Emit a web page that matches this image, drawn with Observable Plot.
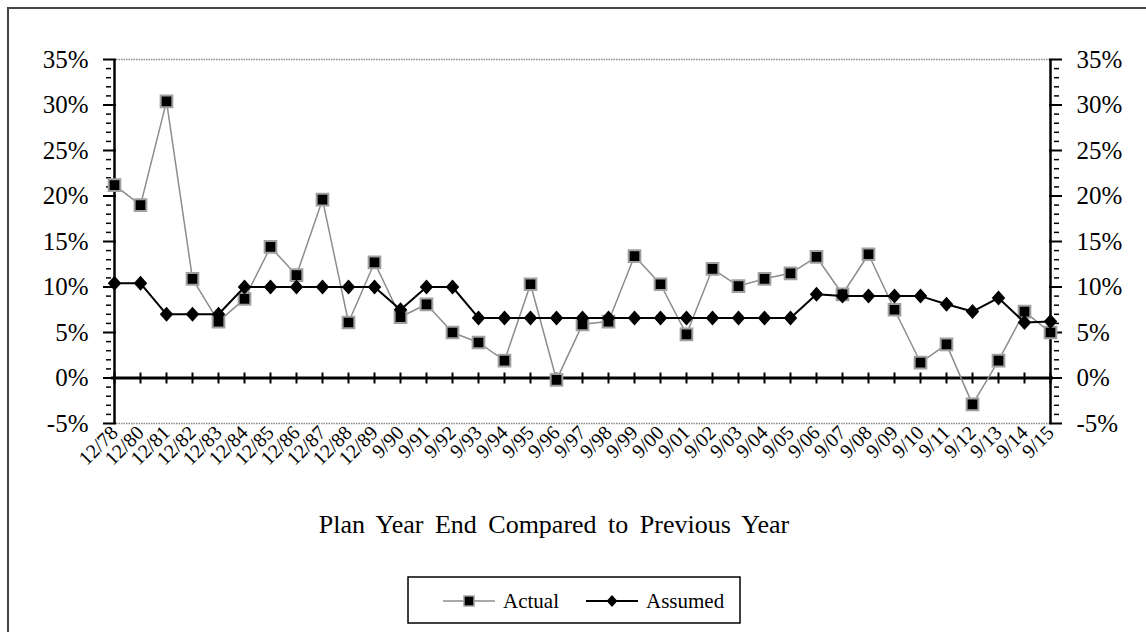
<!DOCTYPE html>
<html><head><meta charset="utf-8">
<script src="https://cdn.jsdelivr.net/npm/d3@7"></script>
<script src="https://cdn.jsdelivr.net/npm/@observablehq/plot@0.6"></script>
<style>
body{margin:0;background:#fff;font-family:"Liberation Serif","Times New Roman",serif;}
#wrap{position:relative;width:1146px;height:632px;overflow:hidden;}
#frame{position:absolute;left:7px;top:7px;width:1200px;height:700px;border-top:2px solid #444;border-left:2px solid #444;}
#chart{position:absolute;left:0;top:0;}
#chart svg, #chart svg text{font-family:"Liberation Serif","Times New Roman",serif !important;}
#title{position:absolute;left:0;width:1108px;top:510px;text-align:center;font-size:26px;word-spacing:5px;color:#000;}
#legend{position:absolute;left:407px;top:576px;}
#legend text{font-family:"Liberation Serif","Times New Roman",serif;}
</style>
</head><body>
<div id="wrap"><div id="frame"></div><div id="chart"></div><div id="title">Plan Year End Compared to Previous Year</div><div id="legend"></div></div>
<script>
const categories = ["12/78","12/80","12/81","12/82","12/83","12/84","12/85","12/86","12/87","12/88","12/89","9/90","9/91","9/92","9/93","9/94","9/95","9/96","9/97","9/98","9/99","9/00","9/01","9/02","9/03","9/04","9/05","9/06","9/07","9/08","9/09","9/10","9/11","9/12","9/13","9/14","9/15"];
const actual = [21.2,19.0,30.4,10.9,6.2,8.7,14.4,11.3,19.6,6.1,12.7,6.7,8.1,5.0,3.9,1.9,10.3,-0.2,5.9,6.2,13.4,10.3,4.8,12.0,10.1,10.9,11.5,13.3,9.2,13.6,7.5,1.7,3.7,-2.9,1.9,7.3,5.0];
const assumed = [10.4,10.4,7.0,7.0,7.0,10.0,10.0,10.0,10.0,10.0,10.0,7.5,10.0,10.0,6.6,6.6,6.6,6.6,6.6,6.6,6.6,6.6,6.6,6.6,6.6,6.6,6.6,9.2,9.0,9.0,9.0,9.0,8.1,7.3,8.8,6.1,6.2];
const seriesNames = ["Actual","Assumed"];
const majorTicks = [-5,0,5,10,15,20,25,30,35];
const minorTicks = d3.range(-5,36,1).filter(v => v % 5 !== 0);

const rowsActual = categories.map((c,i) => ({cat:c, value:actual[i]}));
const rowsAssumed = categories.map((c,i) => ({cat:c, value:assumed[i]}));

const diamondSym = {draw(ctx, size){ const r = Math.sqrt(size/Math.PI); const w = r*0.9; ctx.moveTo(0,-r); ctx.lineTo(w,0); ctx.lineTo(0,r); ctx.lineTo(-w,0); ctx.closePath(); }};
const vtickSym = {draw(ctx, size){ const r = Math.sqrt(size/Math.PI); ctx.moveTo(0,-r); ctx.lineTo(0,r); }};
const fmt = d => `${d}%`;

const chart = Plot.plot({
  width: 1146, height: 490,
  marginLeft: 111, marginRight: 93, marginTop: 59, marginBottom: 67,
  style: {fontFamily: "Liberation Serif", fontSize: "22px", color: "#000", background: "transparent", overflow: "visible"},
  x: {type: "point", domain: categories, padding: 0, label: null},
  y: {domain: [-5, 35], label: null},
  marks: [
    Plot.ruleY([35, -5], {stroke: "#8a8a8a", strokeWidth: 1.5, strokeDasharray: "1.5,1"}),
    Plot.ruleY([0], {stroke: "#000", strokeWidth: 3}),
    Plot.ruleX([categories[0], categories[categories.length-1]], {stroke: "#000", strokeWidth: 2.5}),
    Plot.axisY({anchor: "left", ticks: majorTicks, tickSize: 13, dx: 5, tickPadding: 15, tickFormat: fmt, strokeWidth: 2, fontSize: 25, label: null}),
    Plot.axisY({anchor: "left", ticks: minorTicks, tickSize: 5, tickFormat: () => "", strokeWidth: 1.5, label: null}),
    Plot.axisY({anchor: "right", ticks: majorTicks, tickSize: 13, dx: -5, tickPadding: 15, tickFormat: fmt, strokeWidth: 2, fontSize: 25, label: null}),
    Plot.axisY({anchor: "right", ticks: minorTicks, tickSize: 5, tickFormat: () => "", strokeWidth: 1.5, label: null}),
    Plot.axisX({anchor: "bottom", tickSize: 0, tickRotate: -45, tickPadding: 6, fontSize: 20, label: null}),
    Plot.dot(categories, {x: d => d, y: () => 0, symbol: vtickSym, r: 5.5, stroke: "#000", fill: "none", strokeWidth: 2}),
    Plot.line(rowsActual, {x: "cat", y: "value", stroke: "#8c8c8c", strokeWidth: 1.5}),
    Plot.dot(rowsActual, {x: "cat", y: "value", symbol: "square", r: 6.6, fill: "#000", stroke: "#a0a0a0", strokeWidth: 2}),
    Plot.line(rowsAssumed, {x: "cat", y: "value", stroke: "#000", strokeWidth: 2}),
    Plot.dot(rowsAssumed, {x: "cat", y: "value", symbol: diamondSym, r: 7.5, fill: "#000", stroke: "none"})
  ]
});
document.getElementById("chart").appendChild(chart);

// legend
const lg = d3.select("#legend").append("svg").attr("width", 336).attr("height", 50);
lg.append("rect").attr("x", 1).attr("y", 1).attr("width", 332).attr("height", 46).attr("fill", "#fff").attr("stroke", "#000").attr("stroke-width", 1.5);
const items = [
  {name: seriesNames[0], x: 36, stroke: "#8c8c8c", sw: 1.5, sym: d3.symbolSquare, size: 100, mstroke: "#a0a0a0"},
  {name: seriesNames[1], x: 179, stroke: "#000", sw: 2, sym: diamondSym, size: Math.PI*36, mstroke: "none"}
];
items.forEach(it => {
  const g = lg.append("g").attr("transform", `translate(${it.x},25)`);
  g.append("line").attr("x1", 0).attr("x2", 52).attr("stroke", it.stroke).attr("stroke-width", it.sw);
  g.append("path").attr("transform", "translate(26,0)").attr("d", d3.symbol(it.sym, it.size)()).attr("fill", "#000").attr("stroke", it.mstroke).attr("stroke-width", 1.5);
  g.append("text").attr("x", 60).attr("y", 7).attr("font-size", 21).text(it.name);
});
</script>
</body></html>
